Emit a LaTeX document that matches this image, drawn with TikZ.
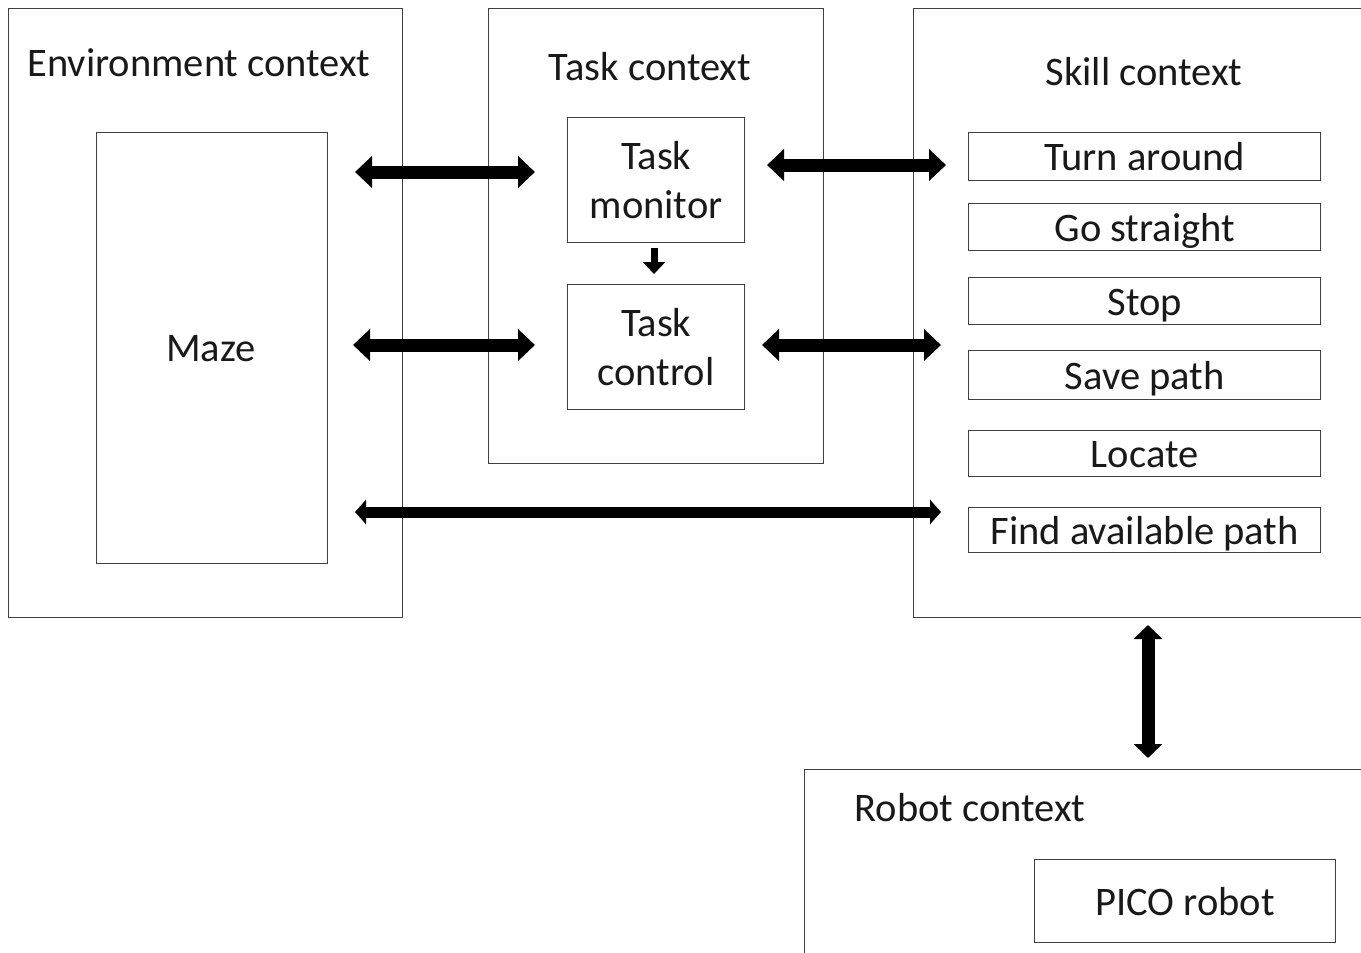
\documentclass[tikz,border=0pt]{standalone}
\usepackage{fontspec}
\setmainfont{Carlito}
\usetikzlibrary{arrows.meta}
\begin{document}
\begin{tikzpicture}[x=1pt,y=-1pt,
  box/.style={draw=black!75, line width=1.4pt, anchor=north west, inner sep=0pt},
  lbl/.style={font=\fontsize{40.5}{49}\selectfont, text=black!90, inner sep=0pt, align=center},
  slbl/.style={lbl, anchor=base},
  bigarrow/.style={line width=13pt, {Triangle[length=17pt,width=31pt]}-{Triangle[length=17pt,width=31pt]}},
  longarrow/.style={line width=11pt, {Triangle[length=11pt,width=24pt]}-{Triangle[length=11pt,width=24pt]}},
  vertarrow/.style={line width=13pt, {Triangle[length=14pt,width=28pt]}-{Triangle[length=14pt,width=28pt]}},
  smallarrow/.style={line width=7pt, -{Triangle[length=12pt,width=22pt]}}
]
\useasboundingbox (0,0) rectangle (1361,953);
\clip (0,0) rectangle (1361,953);
\fill[white] (0,0) rectangle (1361,953);

% Environment context
\node[box, minimum width=394pt, minimum height=609pt] (env) at (8,8) {};
\node[lbl, anchor=base] (envt) at (199,76) {Environment context};
\node[box, minimum width=231pt, minimum height=431pt] (maze) at (96,132) {};
\node[lbl] (mazet) at (211,349) {Maze};

% Task context
\node[box, minimum width=335pt, minimum height=455pt] (task) at (488,8) {};
\node[lbl, anchor=base] (taskt) at (650,80) {Task context};
\node[box, minimum width=177pt, minimum height=125pt] (mon) at (567,117) {};
\node[lbl] (mont) at (mon.center) {Task\\monitor};
\node[box, minimum width=177pt, minimum height=125pt] (ctl) at (567,284) {};
\node[lbl] (ctlt) at (ctl.center) {Task\\control};

% Skill context
\node[box, minimum width=470pt, minimum height=609pt] (skill) at (913,8) {};
\node[lbl, anchor=base] (skillt) at (1144,85) {Skill context};
\node[box, minimum width=352pt, minimum height=48pt] (s1) at (968,132) {};
\node[slbl] at ([yshift=-14pt]s1.center) {Turn around};
\node[box, minimum width=352pt, minimum height=47pt] (s2) at (968,203) {};
\node[slbl] at ([yshift=-14pt]s2.center) {Go straight};
\node[box, minimum width=352pt, minimum height=47pt] (s3) at (968,277) {};
\node[slbl] at ([yshift=-14pt]s3.center) {Stop};
\node[box, minimum width=352pt, minimum height=49pt] (s4) at (968,350) {};
\node[slbl] at ([yshift=-14pt]s4.center) {Save path};
\node[box, minimum width=352pt, minimum height=46pt] (s5) at (968,430) {};
\node[slbl] at ([yshift=-14pt]s5.center) {Locate};
\node[box, minimum width=352pt, minimum height=45pt] (s6) at (968,507) {};
\node[slbl] at ([yshift=-14pt]s6.center) {Find available path};

% Robot context
\node[box, minimum width=600pt, minimum height=220pt] (robot) at (804,769) {};
\node[lbl, anchor=base] (robott) at (970,821) {Robot context};
\node[box, minimum width=301pt, minimum height=83pt] (pico) at (1034,859) {};
\node[lbl] at (pico.center) {PICO robot};

% arrows
\coordinate (a1l) at (355,172); \coordinate (a1r) at (535,172);
\coordinate (a2l) at (767,165); \coordinate (a2r) at (946,165);
\coordinate (a3l) at (353,345); \coordinate (a3r) at (535,345);
\coordinate (a4l) at (762,345); \coordinate (a4r) at (941,345);
\coordinate (a5l) at (355,512); \coordinate (a5r) at (941,512);
\coordinate (vt) at (1148,625); \coordinate (vb) at (1148,758);
\coordinate (mt) at (654,248); \coordinate (mb) at (654,274);
\draw[bigarrow] (a1l) -- (a1r);
\draw[bigarrow] (a2l) -- (a2r);
\draw[bigarrow] (a3l) -- (a3r);
\draw[bigarrow] (a4l) -- (a4r);
\draw[longarrow] (a5l) -- (a5r);
\draw[vertarrow] (vt) -- (vb);
\draw[smallarrow] (mt) -- (mb);
\end{tikzpicture}
\end{document}
